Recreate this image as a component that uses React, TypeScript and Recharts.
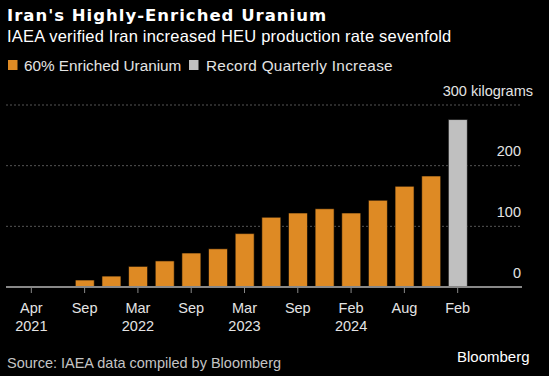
import { BarChart, Bar, Cell, CartesianGrid, XAxis, YAxis } from "recharts";

// IAEA quarterly reports
const periods = [
  "Apr 2021", "May 2021", "Sep 2021", "Nov 2021", "Mar 2022", "May 2022",
  "Sep 2022", "Nov 2022", "Mar 2023", "May 2023", "Sep 2023", "Nov 2023",
  "Feb 2024", "May 2024", "Aug 2024", "Oct 2024", "Feb 2025",
];
// 60% enriched uranium stockpile, kg
const heuKg = [1, 1.5, 11.5, 18, 34, 43, 56, 63, 88, 115, 122, 129, 122, 143, 166, 183, 276];

const tickPeriods = ["Apr 2021", "Sep 2021", "Mar 2022", "Sep 2022", "Mar 2023", "Sep 2023", "Feb 2024", "Aug 2024", "Feb 2025"];
const tickMonths = ["Apr", "Sep", "Mar", "Sep", "Mar", "Sep", "Feb", "Aug", "Feb"];
const tickYears = ["2021", "", "2022", "", "2023", "", "2024", "", ""];
const yTicks = [0, 100, 200, 300];

const ORANGE = "#de8a24";
const GRAY = "#c0c0c0";
const FONT = "'Liberation Sans', Arial, sans-serif";

const data = periods.map((p, i) => ({ period: p, kg: heuKg[i] }));

function XTick(props: any) {
  const { x, y, payload } = props;
  const i = tickPeriods.indexOf(payload.value);
  return (
    <g>
      <text x={x} y={y + 17.5} textAnchor="middle" fill="#e4e4e4" fontSize={14.5} fontFamily={FONT}>
        {tickMonths[i]}
      </text>
      <text x={x} y={y + 36} textAnchor="middle" fill="#e4e4e4" fontSize={14.5} fontFamily={FONT}>
        {tickYears[i]}
      </text>
    </g>
  );
}

// labels sit above their gridline, right aligned near the plot edge
function YTick(props: any) {
  const { y, payload } = props;
  const top = payload.value === 300;
  return (
    <text
      x={top ? 533 : 521}
      y={y - 9.5}
      textAnchor="end"
      fill="#e4e4e4"
      fontSize={14.5}
      fontFamily={FONT}
    >
      {top ? "300 kilograms" : payload.value}
    </text>
  );
}

export default function App() {
  return (
    <div style={{ position: "absolute", left: 0, top: 0, width: 549, height: 376, background: "#000" }}>
      <BarChart
        width={549}
        height={376}
        data={data}
        margin={{ top: 105, right: 0, bottom: 49, left: 6 }}
        style={{ position: "absolute", left: 0, top: 0 }}
      >
        <CartesianGrid vertical={false} stroke="#555" strokeDasharray="2 2" />
        <XAxis
          dataKey="period"
          ticks={tickPeriods}
          interval={0}
          height={40}
          padding={{ left: 12, right: 51 }}
          axisLine={{ stroke: "#888", strokeWidth: 2 }}
          tickLine={{ stroke: "#888" }}
          tickSize={6}
          tick={<XTick />}
        />
        <YAxis
          orientation="right"
          domain={[0, 300]}
          ticks={yTicks}
          width={27}
          axisLine={false}
          tickLine={false}
          tick={<YTick />}
        />
        <Bar dataKey="kg" barSize={19} stroke="rgba(0,0,0,0.6)" strokeWidth={1} isAnimationActive={false}>
          {data.map((d, i) => (
            <Cell key={d.period} fill={i === data.length - 1 ? GRAY : ORANGE} />
          ))}
        </Bar>
      </BarChart>

      <svg width={549} height={376} style={{ position: "absolute", left: 0, top: 0, pointerEvents: "none" }}>
        <text x={7} y={21} fill="#fff" fontSize={16.5} fontWeight="bold" letterSpacing={1} fontFamily="'DejaVu Sans', sans-serif">
          Iran's Highly-Enriched Uranium
        </text>
        <text x={7} y={42} fill="#fff" fontSize={16.5} letterSpacing={0.2} fontFamily={FONT}>
          IAEA verified Iran increased HEU production rate sevenfold
        </text>
        <rect x={8} y={60} width={9.5} height={10} fill={ORANGE} />
        <text x={24} y={71} fill="#e4e4e4" fontSize={15.3} fontFamily={FONT}>
          60% Enriched Uranium
        </text>
        <rect x={189} y={60} width={9.5} height={10} fill={GRAY} />
        <text x={206} y={71} fill="#e4e4e4" fontSize={15.3} letterSpacing={0.3} fontFamily={FONT}>
          Record Quarterly Increase
        </text>
        <text x={7} y={368} fill="#c4c4c4" fontSize={14.5} fontFamily={FONT}>
          Source: IAEA data compiled by Bloomberg
        </text>
        <text x={457} y={362} fill="#fff" fontSize={15} fontFamily={FONT}>
          Bloomberg
        </text>
      </svg>
    </div>
  );
}
